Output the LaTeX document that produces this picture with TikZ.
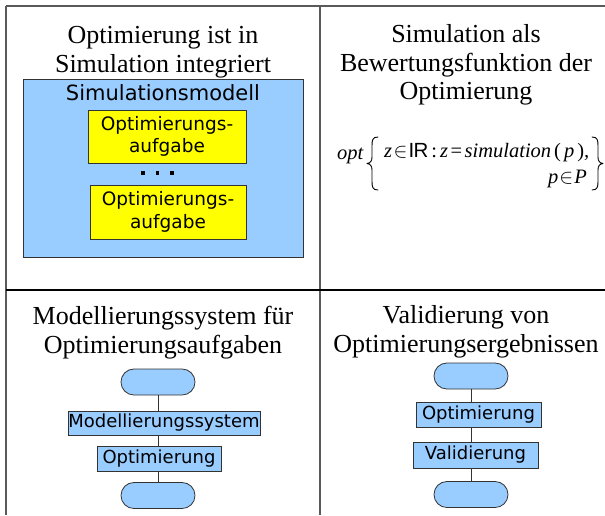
\documentclass[tikz,border=0pt]{standalone}
\usepackage{fontspec}
\setmainfont{Liberation Serif}
\newfontfamily\dvsans{DejaVu Sans}
\newfontfamily\lsans{Liberation Sans}
\definecolor{boxblue}{HTML}{99CCFF}
\definecolor{boxyellow}{HTML}{FFFF00}
\definecolor{gridgray}{HTML}{5A5A5A}
\definecolor{edgegray}{HTML}{333333}

\begin{document}
\begin{tikzpicture}[x=1pt,y=-1pt,
  title/.style={font=\fontsize{26}{29}\selectfont, inner sep=0pt, anchor=base},
  sanslabel/.style={font=\dvsans\fontsize{21}{25}\selectfont, inner sep=0pt, anchor=base},
  yellowbox/.style={draw=edgegray, fill=boxyellow, line width=0.8pt, inner sep=0pt,
    align=center, font=\dvsans\fontsize{18.5}{22.5}\selectfont},
  flowbox/.style={draw=edgegray, fill=boxblue, line width=0.8pt, inner sep=0pt,
    font=\dvsans\fontsize{18}{22}\selectfont},
  terminal/.style={draw=edgegray, fill=boxblue, line width=0.8pt, inner sep=0pt,
    rounded corners=12.9pt, minimum width=74pt, minimum height=26pt},
  conn/.style={draw=edgegray, line width=0.8pt},
  fml/.style={font=\fontsize{20.5}{24}\selectfont, inner sep=0pt},
  bracepath/.style={line width=0.9pt, line cap=round, line join=round},
  dot/.style={fill=black}
]
\useasboundingbox (0,0) rectangle (605,515);

% table rules
\draw[gridgray, line width=1.5pt] (6,6) -- (605,6);
\draw[gridgray, line width=2pt] (6,6) -- (6,515);
\draw[gridgray, line width=2.2pt] (320,6) -- (320,515);
\draw[black, line width=1.5pt] (6,290) -- (605,290);

% ---- cell 1: optimisation inside the simulation
\node[title] (t1a) at (163,43) {Optimierung ist in};
\node[title] (t1b) at (163,72) {Simulation integriert};
\node[draw=edgegray, fill=boxblue, line width=0.8pt, minimum width=280pt,
      minimum height=178pt, inner sep=0pt] (simmod) at (163,168) {};
\node[sanslabel] (simlbl) at (163,100) {Simulationsmodell};
\node[yellowbox, minimum width=158pt, minimum height=53pt] (opt1) at (167,136.5)
  {Optimierungs-\\aufgabe};
\node[yellowbox, minimum width=156pt, minimum height=54pt] (opt2) at (168,212)
  {Optimierungs-\\aufgabe};
\foreach \dx in {143,157.5,172}
  \fill[dot] (\dx-1.9,171.2) rectangle (\dx+1.9,175.0);

% ---- cell 2: simulation as objective function
\node[title] (t2a) at (466,42) {Simulation als};
\node[title] (t2b) at (466,71) {Bewertungsfunktion der};
\node[title] (t2c) at (466,99) {Optimierung};

\node[fml, anchor=base west] (optw) at (337,159) {\itshape opt};
\node[fml, anchor=base west] (row1) at (384,157.5)
  {\itshape z\kern1.5pt$\in$\kern1pt{\lsans\upshape I\kern-0.6ptR}\kern3pt{\upshape:}\kern3pt z\kern2.5pt{\upshape=}\kern2.5pt simulation\kern3pt{\upshape(}\kern3pt p\kern3pt{\upshape)},};
\node[fml, anchor=base east] (row2) at (587,183.5)
  {\itshape p\kern1pt$\in$\kern1pt P};
% curly brackets around the set
\draw[bracepath] (378,137) .. controls (372.5,137) and (372,140) .. (372,146)
  -- (372,157) .. controls (372,161) and (370.5,163) .. (367,163.5)
  .. controls (370.5,164) and (372,166) .. (372,170)
  -- (372,181) .. controls (372,187) and (372.5,190) .. (378,190);
\draw[bracepath] (592,137) .. controls (597.5,137) and (598,140) .. (598,146)
  -- (598,157) .. controls (598,161) and (599.5,163) .. (603,163.5)
  .. controls (599.5,164) and (598,166) .. (598,170)
  -- (598,181) .. controls (598,187) and (597.5,190) .. (592,190);

% ---- cell 3: modelling system for optimisation problems
\node[title] (t3a) at (163,324) {Modellierungssystem für};
\node[title] (t3b) at (163,353) {Optimierungsaufgaben};
\node[terminal] (s3) at (158,382) {};
\node[flowbox, minimum width=192pt, minimum height=24pt] (mod3) at (164,423) {Modellierungssystem};
\node[flowbox, minimum width=124pt, minimum height=25pt] (opt3) at (159,458.5) {Optimierung};
\node[terminal] (e3) at (158,495.5) {};
\draw[conn] (s3.south) -- (s3.south |- mod3.north);
\draw[conn] (s3.south |- mod3.south) -- (s3.south |- opt3.north);
\draw[conn] (s3.south |- opt3.south) -- (e3.north);

% ---- cell 4: validation of optimisation results
\node[title] (t4a) at (466,323) {Validierung von};
\node[title] (t4b) at (466,352) {Optimierungsergebnissen};
\node[terminal] (s4) at (471,376) {};
\node[flowbox, minimum width=125pt, minimum height=25pt] (opt4) at (478.5,414.5) {Optimierung};
\node[flowbox, minimum width=125pt, minimum height=26pt] (val4) at (475.5,455) {Validierung};
\node[terminal] (e4) at (471,494.5) {};
\draw[conn] (s4.south) -- (s4.south |- opt4.north);
\draw[conn] (s4.south |- opt4.south) -- (s4.south |- val4.north);
\draw[conn] (s4.south |- val4.south) -- (e4.north);
\end{tikzpicture}
\end{document}
